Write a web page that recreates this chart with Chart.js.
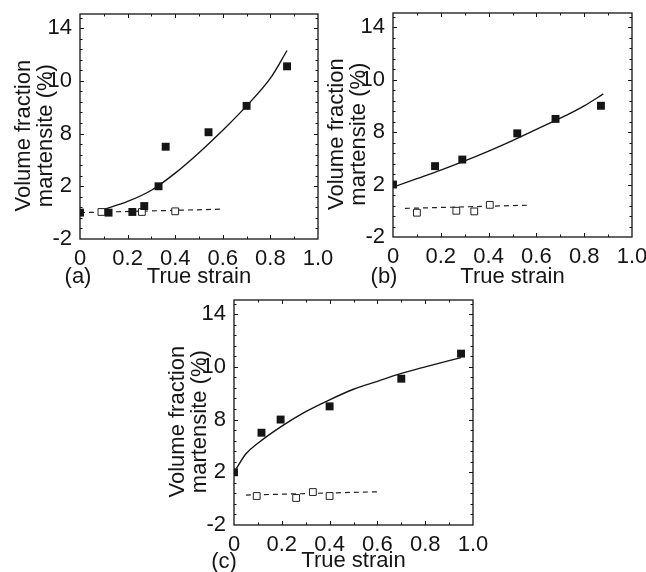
<!DOCTYPE html>
<html>
<head>
<meta charset="utf-8">
<title>Volume fraction martensite - True strain</title>
<script src="https://cdn.jsdelivr.net/npm/chart.js@4.4.0/dist/chart.umd.min.js"></script>
<style>
    body { margin: 0; background: #fff; }
    #lienzo { position: relative; width: 646px; height: 572px; overflow: hidden; }
    #lienzo canvas { position: absolute; }
</style>
</head>
<body>
<div id="lienzo">
    <canvas id="graf_a" width="340" height="290" style="left:0px;top:0px"></canvas>
    <canvas id="graf_b" width="333" height="290" style="left:313px;top:0px"></canvas>
    <canvas id="graf_c" width="340" height="282" style="left:154px;top:290px"></canvas>
</div>
<script>
"use strict";

////////////////////////////////////////////////////// datos
// ejes comunes
const xTicks = [0, 0.2, 0.4, 0.6, 0.8, 1.0];
const xTickLabels = ["0", "0.2", "0.4", "0.6", "0.8", "1.0"];
const yTicks = [-2, 2, 6, 10, 14];
const yTickLabels = ["-2", "2", "8", "10", "14"];
const tituloX = "True strain";
const tituloY = ["Volume fraction", "martensite (%)"];

// (a)
const aStrain = [0, 0.12, 0.22, 0.27, 0.33, 0.36, 0.54, 0.70, 0.87];
const aMart = [0, 0, 0.05, 0.5, 2.0, 5.0, 6.1, 8.1, 11.1];
const aStrainAbierto = [0.09, 0.26, 0.40];
const aMartAbierto = [0.05, 0.05, 0.1];
const aAjusteX = [0.1, 0.2, 0.3, 0.4, 0.5, 0.6, 0.7, 0.8, 0.87];
const aAjusteY = [0.25, 0.85, 1.7, 3.0, 4.55, 6.25, 8.1, 10.2, 12.3];
const aTrazosX = [0, 0.59];
const aTrazosY = [0.0, 0.26];

// (b)
const bStrain = [0, 0.176, 0.29, 0.52, 0.68, 0.87];
const bMart = [2.0, 3.4, 3.9, 5.9, 7.0, 8.0];
const bStrainAbierto = [0.10, 0.265, 0.34, 0.405];
const bMartAbierto = [-0.15, 0.0, -0.05, 0.45];
const bAjusteX = [0, 0.1, 0.2, 0.3, 0.4, 0.5, 0.6, 0.7, 0.8, 0.88];
const bAjusteY = [1.8, 2.45, 3.1, 3.8, 4.55, 5.35, 6.2, 7.05, 8.0, 8.9];
const bTrazosX = [0.05, 0.56];
const bTrazosY = [0.18, 0.42];

// (c)
const cStrain = [0, 0.115, 0.195, 0.40, 0.70, 0.95];
const cMart = [2.0, 5.0, 6.0, 7.0, 9.1, 11.0];
const cStrainAbierto = [0.095, 0.26, 0.33, 0.40];
const cMartAbierto = [0.2, 0.05, 0.5, 0.2];
const cAjusteX = [0.01, 0.05, 0.1, 0.2, 0.3, 0.4, 0.5, 0.6, 0.7, 0.8, 0.95];
const cAjusteY = [2.3, 3.4, 4.2, 5.5, 6.6, 7.5, 8.3, 8.9, 9.5, 10.0, 10.7];
const cTrazosX = [0.05, 0.60];
const cTrazosY = [0.27, 0.52];

////////////////////////////////////////////////////// estilos
const fuente = '"Liberation Sans", Arial, Helvetica, sans-serif';
const negro = "#151515";

function puntos(xs, ys) {
    return xs.map((v, i) => ({ x: v, y: ys[i] }));
}

////////////////////////////////////////////////////// plugin marco: caja y ticks hacia dentro
const marco = {
    id: "marco",
    afterDatasetsDraw(chart) {
        const ctx = chart.ctx;
        const a = chart.chartArea;
        const sx = chart.scales.x;
        const sy = chart.scales.y;
        ctx.save();
        ctx.strokeStyle = negro;
        ctx.lineWidth = 1.3;
        ctx.strokeRect(a.left, a.top, a.right - a.left, a.bottom - a.top);
        ctx.lineWidth = 1;
        ctx.beginPath();
        // eje x: menores cada 0.1, mayores cada 0.2
        for (let i = 1; i < 10; i++) {
            const px = Math.round(sx.getPixelForValue(i / 10)) + 0.5;
            const l = i % 2 === 0 ? 4 : 2.5;
            ctx.moveTo(px, a.bottom); ctx.lineTo(px, a.bottom - l);
            ctx.moveTo(px, a.top); ctx.lineTo(px, a.top + l);
        }
        // eje y: cinco divisiones entre mayores
        for (let i = 1; i * 0.8 - 2 < sy.max; i++) {
            const py = Math.round(sy.getPixelForValue(-2 + i * 0.8)) + 0.5;
            const l = i % 5 === 0 ? 4 : 2.5;
            ctx.moveTo(a.left, py); ctx.lineTo(a.left + l, py);
            ctx.moveTo(a.right, py); ctx.lineTo(a.right - l, py);
        }
        ctx.stroke();
        ctx.restore();
    }
};

////////////////////////////////////////////////////// plugin letra: (a), (b), (c)
const letra = {
    id: "letra",
    afterDraw(chart, args, opts) {
        const ctx = chart.ctx;
        const sx = chart.scales.x;
        ctx.save();
        ctx.font = "22px " + fuente;
        ctx.fillStyle = negro;
        ctx.textAlign = "center";
        ctx.textBaseline = "middle";
        ctx.fillText(opts.texto, chart.chartArea.left + opts.dx, sx.bottom - opts.dy);
        ctx.restore();
    }
};

////////////////////////////////////////////////////// crearPanel
function crearPanel(id, serie, caja) {
    const ctx = document.getElementById(id).getContext("2d");
    return new Chart(ctx, {
        type: "scatter",
        data: {
            datasets: [
                {
                    // cuadrados negros
                    data: puntos(serie.x, serie.y),
                    pointStyle: "rect",
                    radius: 5.6,
                    backgroundColor: negro,
                    borderColor: negro,
                    borderWidth: 0,
                },
                {
                    // cuadrados blancos
                    data: puntos(serie.xa, serie.ya),
                    pointStyle: "rect",
                    radius: 4.8,
                    backgroundColor: "#fff",
                    borderColor: "#222",
                    borderWidth: 1,
                },
                {
                    // curva de ajuste
                    data: puntos(serie.fx, serie.fy),
                    showLine: true,
                    cubicInterpolationMode: "monotone",
                    pointRadius: 0,
                    borderColor: negro,
                    borderWidth: 1.4,
                },
                {
                    // recta a trazos
                    data: puntos(serie.tx, serie.ty),
                    showLine: true,
                    pointRadius: 0,
                    borderColor: "#222",
                    borderWidth: 1.2,
                    borderDash: [5, 4],
                },
            ],
        },
        options: {
            responsive: false,
            animation: false,
            events: [],
            layout: { padding: { left: 0, top: caja.arriba, right: caja.derecha, bottom: 0 } },
            plugins: {
                legend: { display: false },
                tooltip: { enabled: false },
                letra: { texto: caja.letra, dx: caja.letraDx, dy: caja.letraDy },
            },
            scales: {
                x: {
                    type: "linear",
                    min: 0,
                    max: 1,
                    afterBuildTicks: (s) => { s.ticks = xTicks.map((v) => ({ value: v })); },
                    afterFit: (s) => { s.height = caja.altoX; s.paddingLeft = 0; s.paddingRight = 0; },
                    grid: { display: false, drawTicks: false },
                    border: { display: false },
                    ticks: {
                        callback: (v, i) => xTickLabels[i],
                        autoSkip: false,
                        maxRotation: 0,
                        padding: 7,
                        color: negro,
                        font: { family: fuente, size: 22 },
                    },
                    title: {
                        display: true,
                        text: tituloX,
                        color: negro,
                        padding: { top: 0, bottom: caja.tituloAbajo },
                        font: { family: fuente, size: 22, lineHeight: 1 },
                    },
                },
                y: {
                    type: "linear",
                    min: -2,
                    max: 15.07,
                    afterBuildTicks: (s) => { s.ticks = yTicks.map((v) => ({ value: v })); },
                    afterFit: (s) => { s.width = 80; s.paddingTop = 0; s.paddingBottom = 0; },
                    grid: { display: false, drawTicks: false },
                    border: { display: false },
                    ticks: {
                        callback: (v, i) => yTickLabels[i],
                        autoSkip: false,
                        padding: 8,
                        color: negro,
                        font: { family: fuente, size: 22 },
                    },
                    title: {
                        display: true,
                        // los espacios finales bajan un poco el texto girado
                        text: tituloY.map((t) => t + "   "),
                        color: negro,
                        padding: { top: 13, bottom: 0 },
                        font: { family: fuente, size: 22, lineHeight: 1 },
                    },
                },
            },
        },
        plugins: [marco, letra],
    });
}

////////////////////////////////////////////////////// MAIN
crearPanel("graf_a",
    { x: aStrain, y: aMart, xa: aStrainAbierto, ya: aMartAbierto, fx: aAjusteX, fy: aAjusteY, tx: aTrazosX, ty: aTrazosY },
    { arriba: 14, derecha: 22, altoX: 51, tituloAbajo: 2, letra: "(a)", letraDx: -2, letraDy: 13 });
crearPanel("graf_b",
    { x: bStrain, y: bMart, xa: bStrainAbierto, ya: bMartAbierto, fx: bAjusteX, fy: bAjusteY, tx: bTrazosX, ty: bTrazosY },
    { arriba: 13, derecha: 14, altoX: 53, tituloAbajo: 2, letra: "(b)", letraDx: -9, letraDy: 13 });
crearPanel("graf_c",
    { x: cStrain, y: cMart, xa: cStrainAbierto, ya: cMartAbierto, fx: cAjusteX, fy: cAjusteY, tx: cTrazosX, ty: cTrazosY },
    { arriba: 10, derecha: 21, altoX: 47, tituloAbajo: 0, letra: "(c)", letraDx: -10, letraDy: 10 });
</script>
</body>
</html>
